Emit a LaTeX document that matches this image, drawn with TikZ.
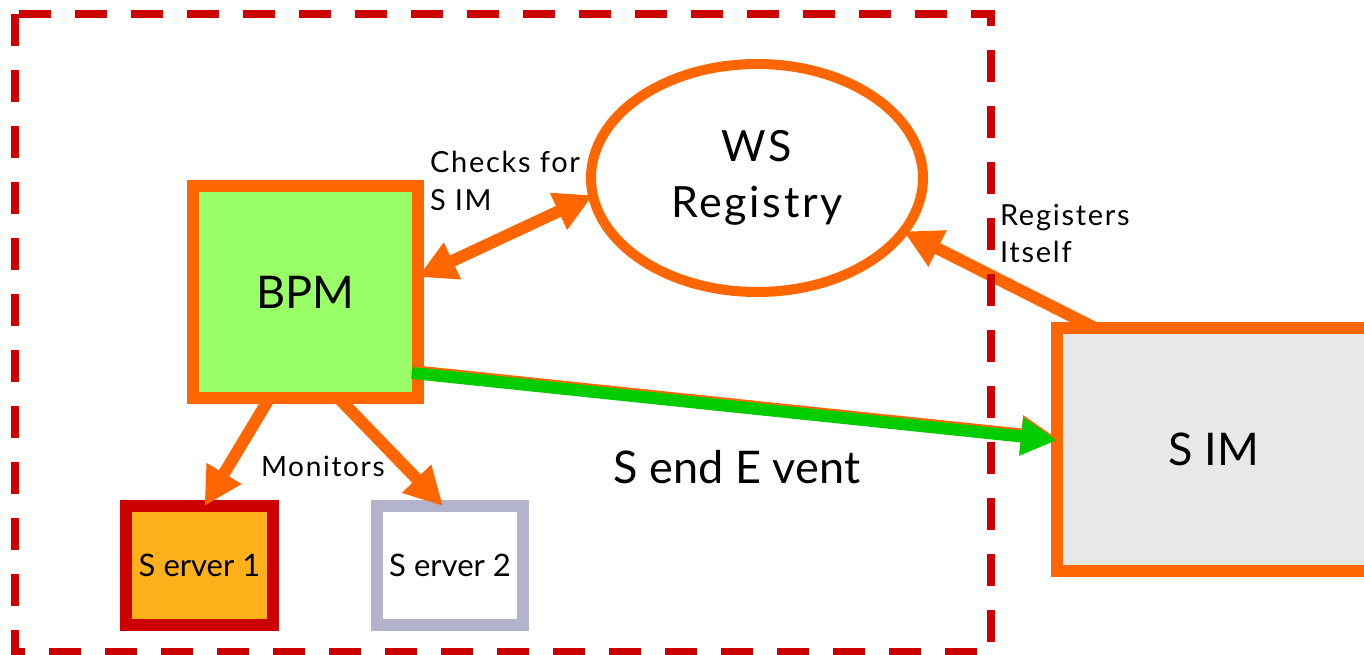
\documentclass[tikz,border=0pt]{standalone}
\usepackage{fontspec}
\setmainfont{Lato}
\newfontfamily\widelato{Lato}[LetterSpace=6]
\usetikzlibrary{arrows.meta,shapes.geometric}

\definecolor{orng}{HTML}{FF6600}
\definecolor{frame}{HTML}{CC0000}
\definecolor{bpmfill}{HTML}{99FF66}
\definecolor{sendgreen}{HTML}{00CC00}
\definecolor{srvfill}{HTML}{FFB11B}
\definecolor{srvgrey}{HTML}{B3B3CC}
\definecolor{simfill}{HTML}{E8E8E8}

\tikzset{
  box/.style={rectangle, line width=12pt, inner sep=0pt, outer sep=0pt},
  flow/.style={draw=orng, line width=12pt,
    -{Triangle[length=38pt,width=38pt]}},
  biflow/.style={draw=orng, line width=12pt,
    {Triangle[length=38pt,width=38pt]}-{Triangle[length=38pt,width=38pt]}},
  send/.style={draw=sendgreen, line width=12pt,
    -{Triangle[length=36pt,width=36pt]}},
  sendedge/.style={draw=orng, line width=12pt,
    -{Triangle[length=36pt,width=36pt]}},
  lbl/.style={inner sep=0pt, outer sep=0pt, align=left, anchor=base west,
    font=\widelato\fontsize{29}{37}\selectfont},
  big/.style={font=\fontsize{45}{56}\selectfont},
}

\begin{document}
\begin{tikzpicture}[x=1pt,y=-1pt]
\useasboundingbox (0,0) rectangle (1364,655);
\clip (0,0) rectangle (1364,655);

% boxes
\node[box, draw=orng, fill=bpmfill, minimum width=225pt, minimum height=212pt, big]
  (bpm) at (305.5,292) {BPM};
\node[box, draw=frame, fill=srvfill, minimum width=147pt, minimum height=119pt,
  font=\fontsize{31}{37}\selectfont] (s1) at (199.5,565.5) {S erver 1};
\node[box, draw=srvgrey, fill=white, minimum width=146pt, minimum height=119pt,
  font=\fontsize{31}{37}\selectfont] (s2) at (450,565.5) {S erver 2};
\node[box, draw=orng, fill=simfill, minimum width=314pt, minimum height=243.5pt, big]
  (sim) at (1214,449.25) {S IM};
\node[ellipse, draw=orng, line width=10pt, fill=white, inner sep=0pt, outer sep=0pt,
  minimum width=332pt, minimum height=228pt, align=center,
  font=\widelato\fontsize{43}{56}\selectfont] (reg) at (757,178) {WS\\Registry};

% connectors
\draw[biflow] ([yshift=15pt]bpm.east) -- (reg.186);
\draw[flow] ([xshift=-36pt]bpm.south) -- ([xshift=5pt]s1.north);
\draw[flow] ([xshift=33pt]bpm.south) -- ([xshift=-7pt]s2.north);
\draw[flow] ([xshift=37pt]sim.north west) -- (reg.-20);
\draw[sendedge] ([xshift=-6pt,yshift=-79pt]bpm.east) -- ([yshift=11pt]sim.west);
\draw[send] ([xshift=-6pt,yshift=-81pt]bpm.east) -- ([yshift=9pt]sim.west);

% labels (base anchor sits on the last line)
\node[lbl] (checks) at (430,210) {Checks for\\S IM};
\node[lbl, font=\widelato\fontsize{28}{36}\selectfont] (mon) at (261,476) {Monitors};
\node[lbl] (regs) at (1000,262) {Registers\\Itself};
\node[inner sep=0pt, anchor=base, big] (sendev) at (737,483) {S end E vent};

% system boundary
\draw[frame, line width=8pt, dash pattern=on 32pt off 24pt] (15,14) rectangle (991,652);
\end{tikzpicture}
\end{document}
